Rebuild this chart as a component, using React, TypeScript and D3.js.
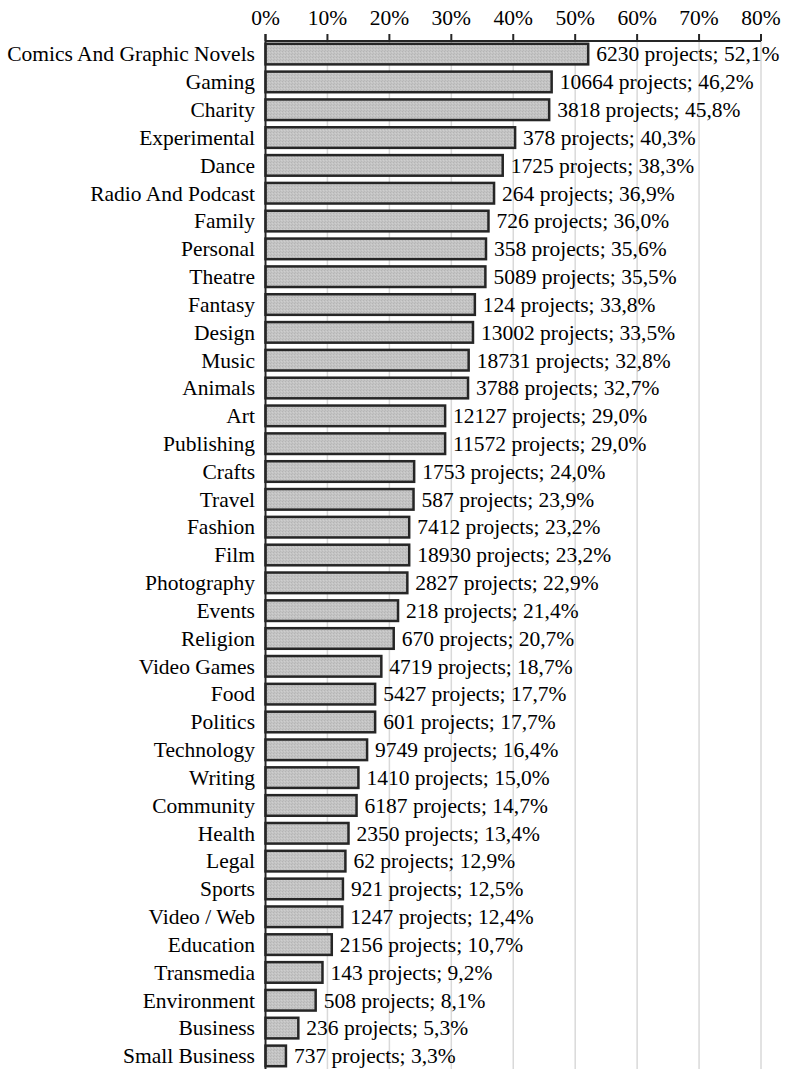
import React from "react";
import * as d3 from "d3";

const categories: string[] = [
  "Comics And Graphic Novels", "Gaming", "Charity", "Experimental", "Dance",
  "Radio And Podcast", "Family", "Personal", "Theatre", "Fantasy", "Design",
  "Music", "Animals", "Art", "Publishing", "Crafts", "Travel", "Fashion", "Film",
  "Photography", "Events", "Religion", "Video Games", "Food", "Politics",
  "Technology", "Writing", "Community", "Health", "Legal", "Sports",
  "Video / Web", "Education", "Transmedia", "Environment", "Business",
  "Small Business",
];

const projectCounts: number[] = [
  6230, 10664, 3818, 378, 1725, 264, 726, 358, 5089, 124, 13002, 18731, 3788,
  12127, 11572, 1753, 587, 7412, 18930, 2827, 218, 670, 4719, 5427, 601, 9749,
  1410, 6187, 2350, 62, 921, 1247, 2156, 143, 508, 236, 737,
];

const successRates: number[] = [
  52.1, 46.2, 45.8, 40.3, 38.3, 36.9, 36.0, 35.6, 35.5, 33.8, 33.5, 32.8, 32.7,
  29.0, 29.0, 24.0, 23.9, 23.2, 23.2, 22.9, 21.4, 20.7, 18.7, 17.7, 17.7, 16.4,
  15.0, 14.7, 13.4, 12.9, 12.5, 12.4, 10.7, 9.2, 8.1, 5.3, 3.3,
];

const xTicks: number[] = [0, 10, 20, 30, 40, 50, 60, 70, 80];

const W = 786;
const H = 1069;
const FONT = '"Liberation Serif", "Times New Roman", serif';

export default function App() {
  const x = d3.scaleLinear().domain([0, 80]).range([265.5, 761]);
  const y = d3
    .scaleBand<string>()
    .domain(categories)
    .range([41, H])
    .paddingInner(0.26)
    .paddingOuter(0.1);

  const axisY = 41;
  const bw = y.bandwidth();
  const fmt = (v: number) => v.toFixed(1).replace(".", ",");
  const textStyle = { fontFamily: FONT, fontSize: "21.5px" };

  return (
    <svg
      width={W}
      height={H}
      style={{ position: "absolute", left: 0, top: 0, background: "#fff" }}
    >
      <defs>
        <pattern id="barTex" width="3" height="3" patternUnits="userSpaceOnUse">
          <rect width="3" height="3" fill="#c4c4c4" />
          <rect x="0" y="0" width="1" height="1" fill="#b4b4b4" />
          <rect x="2" y="1" width="1" height="1" fill="#cfcfcf" />
          <rect x="1" y="2" width="1" height="1" fill="#b9b9b9" />
        </pattern>
      </defs>

      {/* vertical gridlines */}
      {xTicks.slice(1).map((t) => (
        <line
          key={"g" + t}
          x1={x(t)}
          x2={x(t)}
          y1={axisY}
          y2={H}
          stroke="#d9d9d9"
          strokeWidth={1.5}
        />
      ))}

      {/* top axis */}
      <line x1={x(0)} x2={x(80)} y1={axisY} y2={axisY} stroke="#262626" strokeWidth={2} />
      {xTicks.map((t) => (
        <g key={"t" + t}>
          <line x1={x(t)} x2={x(t)} y1={axisY - 7} y2={axisY} stroke="#262626" strokeWidth={2} />
          <text x={x(t)} y={25} textAnchor="middle" style={textStyle} fill="#000">
            {t}%
          </text>
        </g>
      ))}

      {/* bars with category and value labels */}
      {categories.map((c, i) => {
        const y0 = y(c)!;
        const v = successRates[i];
        return (
          <g key={c}>
            <rect
              x={x(0)}
              y={y0}
              width={x(v) - x(0)}
              height={bw}
              fill="url(#barTex)"
              stroke="#262626"
              strokeWidth={2.5}
            />
            <text
              x={255}
              y={y0 + bw / 2}
              dy="0.34em"
              textAnchor="end"
              style={textStyle}
              fill="#000"
            >
              {c}
            </text>
            <text
              x={x(v) + 8}
              y={y0 + bw / 2}
              dy="0.34em"
              textAnchor="start"
              style={textStyle}
              fill="#000"
            >
              {`${projectCounts[i]} projects; ${fmt(v)}%`}
            </text>
          </g>
        );
      })}

      {/* left axis line */}
      <line x1={x(0)} x2={x(0)} y1={axisY - 7} y2={H} stroke="#262626" strokeWidth={2} />
    </svg>
  );
}
